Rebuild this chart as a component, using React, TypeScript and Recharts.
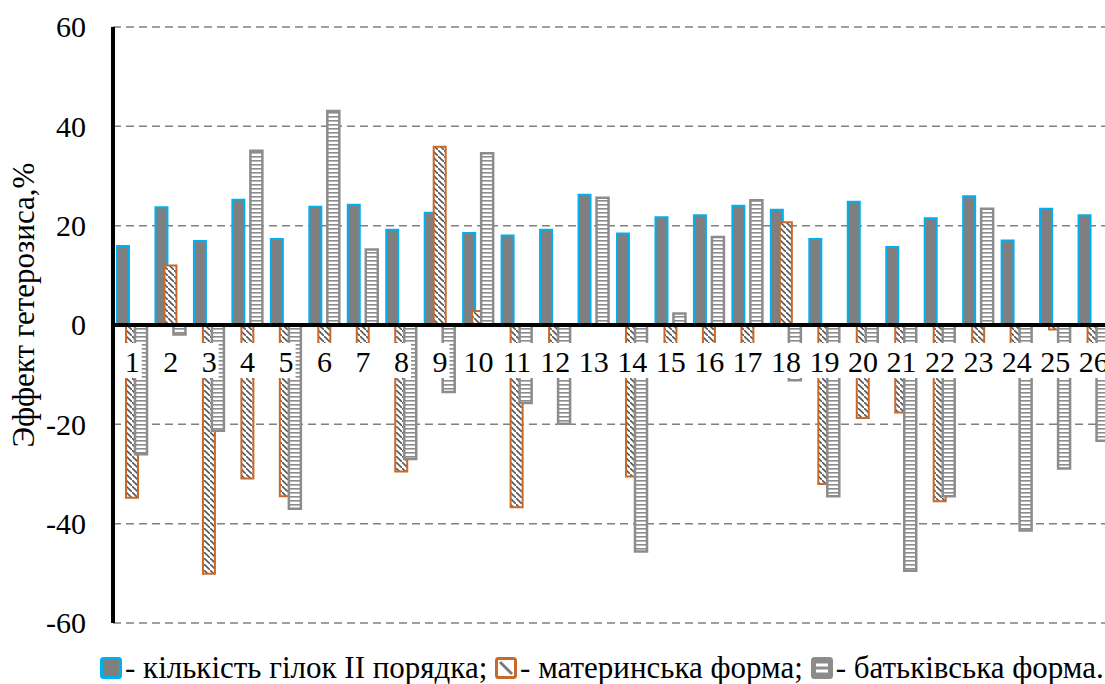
import React from "react";
import {
  BarChart,
  Bar,
  XAxis,
  YAxis,
  CartesianGrid,
  ReferenceLine,
} from "recharts";

// гібриди 1..26
const categories = [
  "1", "2", "3", "4", "5", "6", "7", "8", "9", "10", "11", "12", "13",
  "14", "15", "16", "17", "18", "19", "20", "21", "22", "23", "24", "25", "26",
];

// кількість гілок II порядка
const branches = [
  15.9, 23.7, 16.9, 25.2, 17.3, 23.8, 24.2, 19.2, 22.6, 18.5, 18.0, 19.2, 26.2,
  18.4, 21.7, 22.1, 24.0, 23.2, 17.3, 24.8, 15.7, 21.5, 25.9, 17.0, 23.4, 22.1,
];

// материнська форма
const maternal = [
  -34.8, 12.0, -50.1, -30.9, -34.5, -6.5, -5.5, -29.5, 35.9, 2.8, -36.7, -5.0, 0,
  -30.5, -6.0, -5.5, -6.0, 20.7, -32.0, -18.7, -17.6, -35.5, -6.0, -5.0, -0.9, -5.5,
];

// батьківська форма
const paternal = [
  -26.0, -1.9, -21.3, 35.1, -37.0, 43.1, 15.2, -27.0, -13.5, 34.6, -15.7, -19.9, 25.6,
  -45.6, 2.3, 17.7, 25.1, -11.1, -34.5, -5.0, -49.5, -34.5, 23.4, -41.4, -28.9, -23.3,
];

const yTicks = [60, 40, 20, 0, -20, -40, -60];

const data = categories.map((name, i) => ({
  name,
  branches: branches[i],
  maternal: maternal[i],
  paternal: paternal[i],
}));

const FONT = "'Liberation Serif', 'Times New Roman', serif";
const CHART_W = 1113;
const CHART_H = 684;
const MARGIN = { top: 27, right: 0, bottom: 60, left: 0 };
const X_AXIS_H = 1;
const PLOT_H = CHART_H - MARGIN.top - MARGIN.bottom - X_AXIS_H;

const BLUE = "#00b0f0";
const DARK = "#7f7f7f";
const ORANGE = "#c9682b";
const GREY = "#8c8c8c";

const XTick = (props: any) => {
  const { x, y, payload } = props;
  const zeroY = y - PLOT_H / 2;
  const label = String(payload.value);
  const w = label.length * 15 + 4;
  return (
    <g>
      <rect x={x - w / 2} y={zeroY + 18} width={w} height={35} fill="#fff" />
      <text
        x={x}
        y={zeroY + 47}
        textAnchor="middle"
        fontSize={30}
        fontFamily={FONT}
        fill="#000"
      >
        {label}
      </text>
    </g>
  );
};

const YTick = (props: any) => {
  const { x, y, payload } = props;
  return (
    <text
      x={x}
      y={y}
      dy="0.34em"
      textAnchor="end"
      fontSize={30}
      fontFamily={FONT}
      fill="#000"
    >
      {payload.value}
    </text>
  );
};

const YTitle = () => (
  <text
    transform="translate(34, 305) rotate(-90)"
    textAnchor="middle"
    fontSize={31}
    fontFamily={FONT}
    fill="#000"
  >
    Эффект гетерозиса,%
  </text>
);

function Patterns({ prefix }: { prefix: string }) {
  return (
    <defs>
      <pattern
        id={`${prefix}-hatch`}
        width="6"
        height="6"
        patternUnits="userSpaceOnUse"
      >
        <rect width="6" height="6" fill="#fff" />
        <path d="M-1,-1 L7,7" stroke="#595959" strokeWidth="1.6" />
      </pattern>
      <pattern
        id={`${prefix}-ladder`}
        width="6"
        height="4"
        patternUnits="userSpaceOnUse"
      >
        <rect width="6" height="4" fill="#fff" />
        <rect width="6" height="1.6" fill={GREY} />
      </pattern>
    </defs>
  );
}

const legendItems = [
  { key: "branches", text: "- кількість гілок II порядка; " },
  { key: "maternal", text: "- материнська форма; " },
  { key: "paternal", text: "- батьківська форма." },
];

function LegendIcon({ kind }: { kind: string }) {
  if (kind === "maternal") {
    return (
      <svg width={22} height={22} style={{ display: "block", marginRight: 3 }}>
        <rect x={1.5} y={1.5} width={19} height={19} fill="#fff" stroke={ORANGE} strokeWidth={3} rx={2} />
        <path d="M5,5 L17,17" stroke="#7a7a7a" strokeWidth={3} />
      </svg>
    );
  }
  if (kind === "paternal") {
    return (
      <svg width={22} height={22} style={{ display: "block", marginRight: 3 }}>
        <rect x={1.5} y={1.5} width={19} height={19} fill={GREY} stroke={GREY} strokeWidth={3} rx={2} />
        <rect x={5} y={6.5} width={12} height={3} fill="#fff" />
        <rect x={5} y={12.5} width={12} height={3} fill="#fff" />
      </svg>
    );
  }
  return (
    <svg width={22} height={22} style={{ display: "block", marginRight: 3 }}>
      <rect x={1.5} y={1.5} width={19} height={19} fill={DARK} stroke={BLUE} strokeWidth={3} rx={2} />
    </svg>
  );
}

export default function App() {
  return (
    <div
      style={{
        position: "fixed",
        left: 0,
        top: 0,
        width: 1105,
        height: 684,
        overflow: "hidden",
        background: "#fff",
      }}
    >
      <div style={{ position: "absolute", left: 0, top: 0 }}>
        <BarChart
          width={CHART_W}
          height={CHART_H}
          data={data}
          margin={MARGIN}
          barSize={12}
          barGap={-3}
          barCategoryGap={0}
        >
          <Patterns prefix="ch" />
          <CartesianGrid
            vertical={false}
            stroke="#808080"
            strokeWidth={1.5}
            strokeDasharray="8 5"
          />
          <YAxis
            type="number"
            domain={[-60, 60]}
            ticks={yTicks}
            interval={0}
            width={113}
            tickSize={0}
            tickMargin={27}
            axisLine={{ stroke: "#000", strokeWidth: 4 }}
            tickLine={false}
            tick={<YTick />}
            label={<YTitle />}
          />
          <Bar
            dataKey="branches"
            fill={DARK}
            stroke={BLUE}
            strokeWidth={2}
            isAnimationActive={false}
          />
          <Bar
            dataKey="maternal"
            fill="url(#ch-hatch)"
            stroke={ORANGE}
            strokeWidth={2}
            isAnimationActive={false}
          />
          <Bar
            dataKey="paternal"
            fill="url(#ch-ladder)"
            stroke={GREY}
            strokeWidth={2.5}
            isAnimationActive={false}
          />
          <ReferenceLine y={0} stroke="#000" strokeWidth={4} />
          <XAxis
            dataKey="name"
            height={X_AXIS_H}
            interval={0}
            tickSize={0}
            tickMargin={0}
            axisLine={false}
            tickLine={false}
            tick={<XTick />}
          />
        </BarChart>
      </div>
      <div
        style={{
          position: "absolute",
          left: 100,
          top: 654,
          height: 28,
          display: "flex",
          alignItems: "center",
          fontFamily: FONT,
          fontSize: 31,
          lineHeight: "28px",
          whiteSpace: "pre",
          color: "#000",
        }}
      >
        {legendItems.map((it) => (
          <span key={it.key} style={{ display: "flex", alignItems: "center" }}>
            <LegendIcon kind={it.key} />
            <span>{it.text}</span>
          </span>
        ))}
      </div>
    </div>
  );
}
